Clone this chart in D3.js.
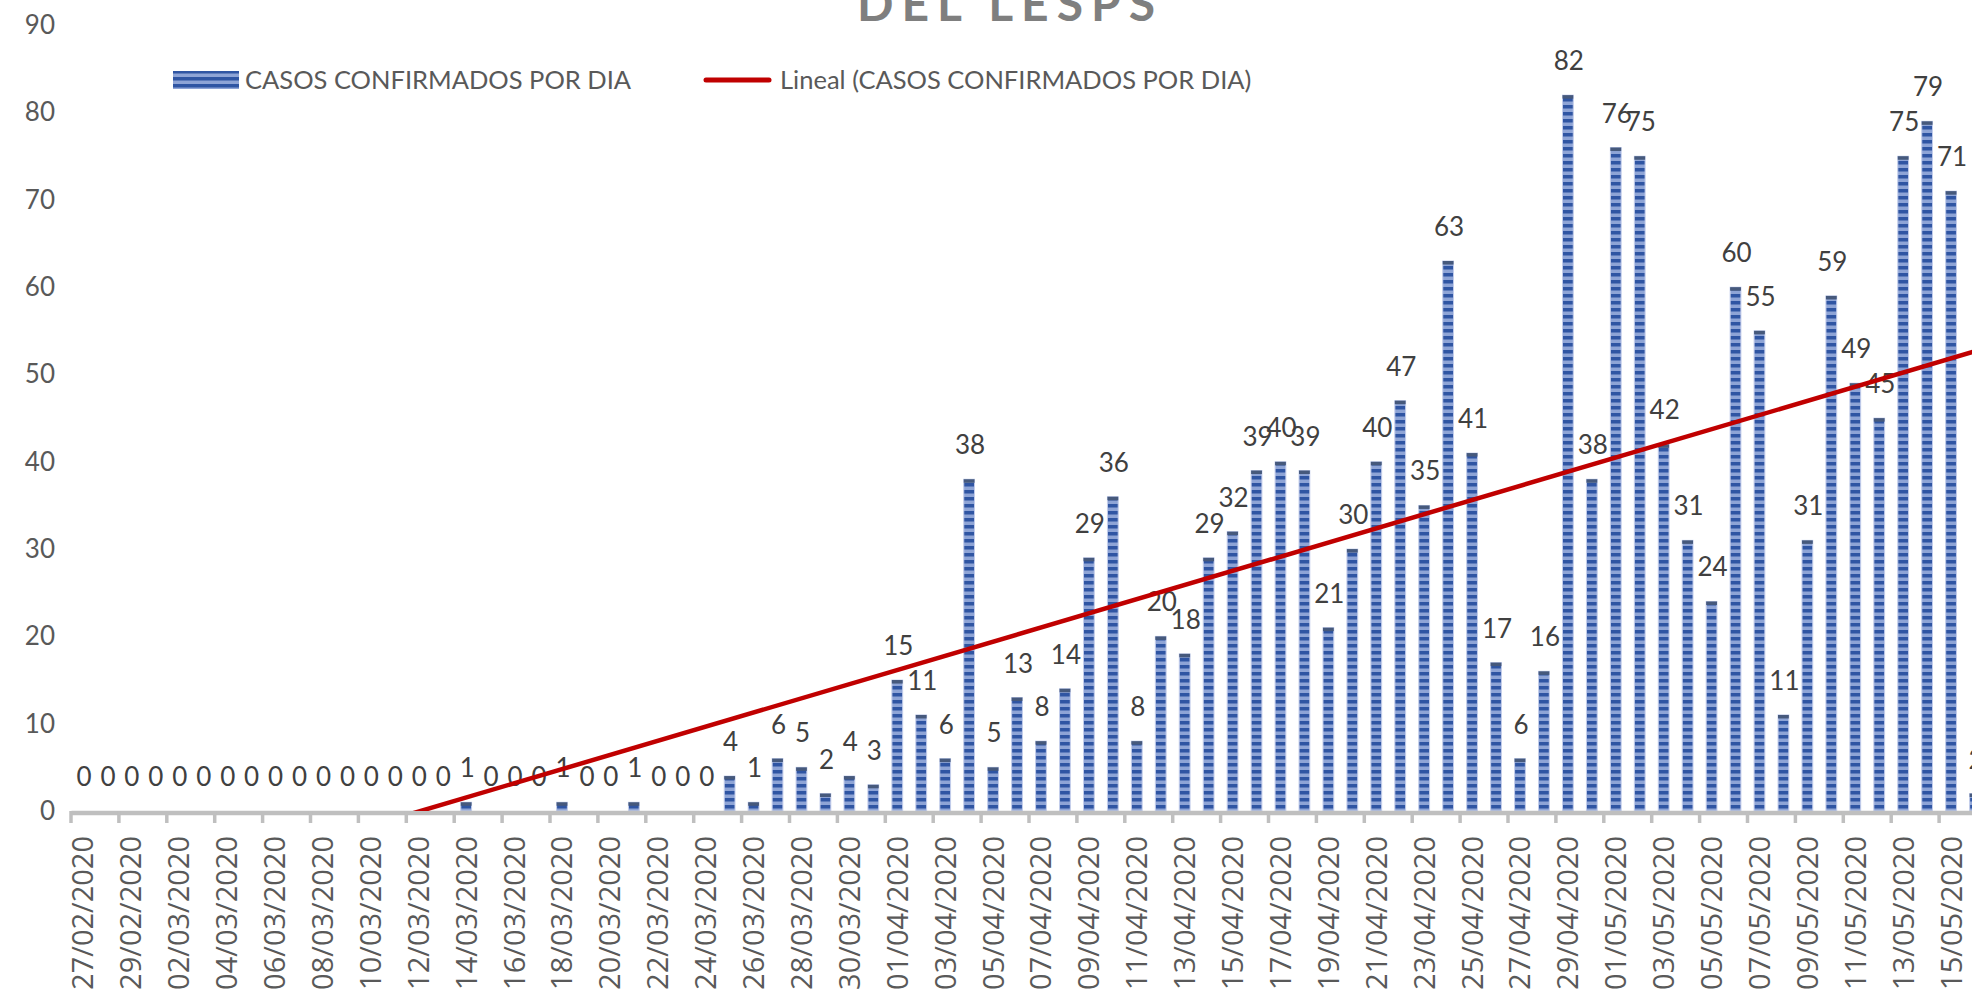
<!DOCTYPE html>
<html>
<head>
<meta charset="utf-8">
<script src="https://cdn.jsdelivr.net/npm/d3@7"></script>
<style>
  html, body { margin: 0; padding: 0; background: #ffffff; overflow: hidden; }
  svg { display: block; }
</style>
</head>
<body>
<svg id="chart" width="1972" height="990"></svg>
<script>
// ---------- data ----------
const dates = [
  "27/02/2020","28/02/2020","29/02/2020",
  "01/03/2020","02/03/2020","03/03/2020","04/03/2020","05/03/2020","06/03/2020","07/03/2020","08/03/2020",
  "09/03/2020","10/03/2020","11/03/2020","12/03/2020","13/03/2020","14/03/2020","15/03/2020","16/03/2020",
  "17/03/2020","18/03/2020","19/03/2020","20/03/2020","21/03/2020","22/03/2020","23/03/2020","24/03/2020",
  "25/03/2020","26/03/2020","27/03/2020","28/03/2020","29/03/2020","30/03/2020","31/03/2020",
  "01/04/2020","02/04/2020","03/04/2020","04/04/2020","05/04/2020","06/04/2020","07/04/2020","08/04/2020",
  "09/04/2020","10/04/2020","11/04/2020","12/04/2020","13/04/2020","14/04/2020","15/04/2020","16/04/2020",
  "17/04/2020","18/04/2020","19/04/2020","20/04/2020","21/04/2020","22/04/2020","23/04/2020","24/04/2020",
  "25/04/2020","26/04/2020","27/04/2020","28/04/2020","29/04/2020","30/04/2020",
  "01/05/2020","02/05/2020","03/05/2020","04/05/2020","05/05/2020","06/05/2020","07/05/2020","08/05/2020",
  "09/05/2020","10/05/2020","11/05/2020","12/05/2020","13/05/2020","14/05/2020","15/05/2020","16/05/2020"
];
const casos = [
  0,0,0,0,0,0,0,0,0,0,0,0,0,0,0,0,
  1,0,0,0,1,0,0,1,0,0,0,
  4,1,6,5,2,4,3,
  15,11,6,38,5,13,8,14,
  29,36,8,20,18,29,32,39,
  40,39,21,30,40,47,35,63,
  41,17,6,16,82,38,76,75,
  42,31,24,60,55,11,31,59,
  49,45,75,79,71,2
];
const yTicks = [0,10,20,30,40,50,60,70,80,90];
const xTickLabels = dates.filter((d, i) => i % 2 === 0);
const seriesName = "CASOS CONFIRMADOS POR DIA";
const trendName = "Lineal (CASOS CONFIRMADOS POR DIA)";
const titleText = "DEL LESPS";

// ---------- layout ----------
const svg = d3.select("#chart");
const step = 23.95;
const x0 = 71;
const x = d3.scaleBand()
  .domain(dates)
  .range([x0, x0 + step * dates.length])
  .paddingInner(0.55)
  .paddingOuter(0.275);
const y = d3.scaleLinear().domain([0, 90]).range([811, 25.3]);

const defs = svg.append("defs");
const pat = defs.append("pattern")
  .attr("id", "stripes")
  .attr("patternUnits", "userSpaceOnUse")
  .attr("width", 12).attr("height", 7);
pat.append("rect").attr("width", 12).attr("height", 7).attr("fill", "#8ea4d6");
pat.append("rect").attr("y", 0).attr("width", 12).attr("height", 3.5).attr("fill", "#2f55a3");

defs.append("clipPath").attr("id", "plotclip")
  .append("rect").attr("x", 0).attr("y", -200).attr("width", 2200).attr("height", 811 + 200);

// title (upper part cut off by the page edge)
svg.append("text")
  .attr("x", 1010).attr("y", 21)
  .attr("text-anchor", "middle")
  .style("font-family", "Lato, 'Open Sans', sans-serif")
  .style("font-weight", 700)
  .style("font-size", "48px")
  .style("letter-spacing", "8px")
  .style("fill", "#7f7f7f")
  .text(titleText);

// y axis labels
const yAxis = svg.append("g")
  .attr("transform", "translate(55,0)")
  .call(d3.axisLeft(y).tickValues(yTicks).tickSize(0).tickPadding(0));
yAxis.select(".domain").remove();
yAxis.selectAll("text")
  .style("font-family", "Lato, sans-serif")
  .style("font-size", "26px")
  .style("fill", "#595959");

// bars
const data = dates.map((d, i) => ({ d, v: casos[i], i }));
const bars = svg.append("g");
bars.selectAll("rect.bar")
  .data(data.filter(p => p.v > 0))
  .join("rect")
  .attr("class", "bar")
  .attr("x", p => x(p.d))
  .attr("width", x.bandwidth())
  .attr("y", p => y(p.v))
  .attr("height", p => y(0) - y(p.v))
  .attr("fill", "url(#stripes)")
  .attr("stroke", "#c3cdeb")
  .attr("stroke-width", 1);
bars.selectAll("rect.cap")
  .data(data.filter(p => p.v > 0))
  .join("rect")
  .attr("class", "cap")
  .attr("x", p => x(p.d))
  .attr("width", x.bandwidth())
  .attr("y", p => y(p.v))
  .attr("height", p => Math.min(3.5, y(0) - y(p.v)))
  .attr("fill", "#46597c");

// x axis
const xAxis = svg.append("g")
  .attr("transform", `translate(0,${y(0)})`)
  .call(d3.axisBottom(x).tickValues(xTickLabels).tickSize(0).tickSizeOuter(0));
xAxis.select(".domain")
  .attr("stroke", "#bfbfbf")
  .attr("stroke-width", 4.5)
  .attr("transform", "translate(0,1.5)");
xAxis.selectAll("text")
  .attr("transform", "rotate(-90)")
  .attr("x", -25)
  .attr("y", 0)
  .attr("dy", "0.36em")
  .style("text-anchor", "end")
  .style("font-family", "'Open Sans', sans-serif")
  .style("font-size", "29px")
  .style("fill", "#595959");

// tick marks at category boundaries
const offset = x.step() * x.paddingInner() / 2;
svg.append("g").selectAll("line")
  .data(xTickLabels)
  .join("line")
  .attr("x1", d => x(d) - offset)
  .attr("x2", d => x(d) - offset)
  .attr("y1", y(0))
  .attr("y2", y(0) + 12)
  .attr("stroke", "#bfbfbf")
  .attr("stroke-width", 3.5);

// data labels
svg.append("g").selectAll("text")
  .data(data)
  .join("text")
  .attr("x", p => x(p.d) + x.bandwidth() / 2 + 1)
  .attr("y", p => y(p.v) - 25)
  .attr("text-anchor", "middle")
  .style("font-family", "Lato, sans-serif")
  .style("font-size", "26px")
  .style("fill", "#404040")
  .text(p => p.v);

// linear trend line (least squares over the series)
const n = casos.length;
const mx = d3.mean(d3.range(n));
const my = d3.mean(casos);
const sxy = d3.sum(casos, (v, i) => (i - mx) * (v - my));
const sxx = d3.sum(d3.range(n), i => (i - mx) * (i - mx));
const slope = sxy / sxx;
const intercept = my - slope * mx;
const trend = [0, n - 1].map(i => ({ d: dates[i], v: intercept + slope * i }));
svg.append("path")
  .datum(trend)
  .attr("clip-path", "url(#plotclip)")
  .attr("d", d3.line().x(p => x(p.d) + x.bandwidth() / 2).y(p => y(p.v)))
  .attr("fill", "none")
  .attr("stroke", "#c00000")
  .attr("stroke-width", 4.5);

// legend
const leg = svg.append("g");
leg.append("rect")
  .attr("x", 173).attr("y", 71).attr("width", 66).attr("height", 18)
  .attr("fill", "url(#stripes)");
leg.append("text")
  .attr("x", 245).attr("y", 80).attr("dy", "0.35em")
  .style("font-family", "Lato, sans-serif")
  .style("font-size", "25.5px")
  .style("fill", "#595959")
  .text(seriesName);
leg.append("line")
  .attr("x1", 706).attr("x2", 769).attr("y1", 80).attr("y2", 80)
  .attr("stroke", "#c00000").attr("stroke-width", 5).attr("stroke-linecap", "round");
leg.append("text")
  .attr("x", 780).attr("y", 80).attr("dy", "0.35em")
  .style("font-family", "Lato, sans-serif")
  .style("font-size", "25.5px")
  .style("fill", "#595959")
  .text(trendName);
</script>
</body>
</html>
